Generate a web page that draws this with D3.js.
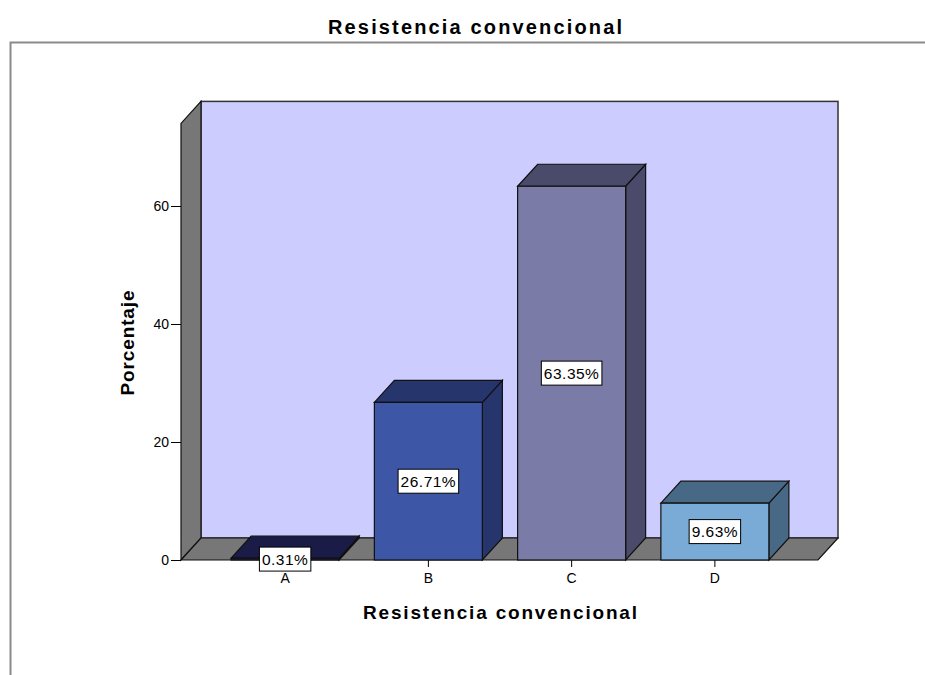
<!DOCTYPE html>
<html><head><meta charset="utf-8">
<script src="https://cdn.jsdelivr.net/npm/d3@7"></script>
<style>body{margin:0;background:#fff}svg{display:block}text{font-family:"Liberation Sans",Arial,sans-serif}</style>
</head><body>
<svg id="c" width="925" height="675"></svg>
<script>
const categories = ["A","B","C","D"];
const values = [0.31, 26.71, 63.35, 9.63];
const valueLabels = ["0.31%","26.71%","63.35%","9.63%"];
const yTicks = [0,20,40,60];
const frontColors = ["#1c1c4c","#3d56a6","#7b7ba8","#7aaad6"];
const darkColors  = ["#1b1b48","#27356d","#4a4a6a","#486986"];
const title = "Resistencia convencional";
const xTitle = "Resistencia convencional";
const yTitle = "Porcentaje";

const svg = d3.select("#c");
const dx = 20, dy = -22;
const y = d3.scaleLinear().domain([0,74]).range([560,123.4]);
const x = d3.scaleBand().domain(categories).range([213.5,786.5]).paddingInner(0.246).paddingOuter(0.123);
const xL = 181, xR = 818, y0 = y(0), yTop = y(74);

// frame
svg.append("path").attr("d","M10.5,675 V42.5 H925").attr("fill","none").attr("stroke","#8a8a8a").attr("stroke-width",2);

// title
svg.append("text").attr("x",475).attr("y",34).attr("text-anchor","middle")
  .attr("font-size",20).attr("font-weight","bold").attr("textLength",294).attr("lengthAdjust","spacing").text(title);

// back wall
svg.append("rect").attr("x",xL+dx).attr("y",yTop+dy).attr("width",xR-xL).attr("height",y0-yTop)
  .attr("fill","#ccccff").attr("stroke","#333").attr("stroke-width",1.5);
// left wall
svg.append("path").attr("d",`M${xL},${y0} V${yTop} L${xL+dx},${yTop+dy} V${y0+dy} Z`)
  .attr("fill","#777777").attr("stroke","#111").attr("stroke-width",1.2);
// floor
svg.append("path").attr("d",`M${xL},${y0} L${xL+dx},${y0+dy} H${xR+dx} L${xR},${y0} Z`)
  .attr("fill","#777777").attr("stroke","#111").attr("stroke-width",1.2);

// axes
const ya = svg.append("g").attr("transform",`translate(${xL},0)`)
  .call(d3.axisLeft(y).tickValues(yTicks).tickSize(10).tickPadding(2).tickFormat(d3.format("d")));
ya.select(".domain").remove();
ya.selectAll("text").attr("font-size",14).attr("fill","#000").style("font-family","Liberation Sans, Arial");
ya.selectAll("line").attr("stroke","#000");

const xa = svg.append("g").attr("transform",`translate(0,${y0})`)
  .call(d3.axisBottom(x).tickSize(7).tickPadding(6));
xa.select(".domain").remove();
xa.selectAll("text").attr("font-size",14).attr("fill","#000").style("font-family","Liberation Sans, Arial");
xa.selectAll("line").attr("stroke","#000");

// bars
const bw = x.bandwidth();
categories.forEach((c,i)=>{
  const x0 = x(c), x1 = x0+bw, yt = y(values[i]);
  const g = svg.append("g");
  g.append("path").attr("d",`M${x1},${yt} L${x1+dx},${yt+dy} V${y0+dy} L${x1},${y0} Z`)
    .attr("fill",darkColors[i]).attr("stroke","#111").attr("stroke-width",1.2);
  g.append("path").attr("d",`M${x0},${yt} L${x0+dx},${yt+dy} H${x1+dx} L${x1},${yt} Z`)
    .attr("fill",darkColors[i]).attr("stroke","#111").attr("stroke-width",1.2);
  g.append("rect").attr("x",x0).attr("y",yt).attr("width",bw).attr("height",y0-yt)
    .attr("fill",frontColors[i]).attr("stroke","#111").attr("stroke-width",1.2);
});

// value labels
categories.forEach((c,i)=>{
  const cx = x(c)+bw/2, cy = (y(values[i])+y0)/2;
  const g = svg.append("g");
  const r = g.append("rect");
  const t = g.append("text").attr("x",cx).attr("y",cy+5.5).attr("text-anchor","middle")
    .attr("font-size",15.5).attr("letter-spacing",0.5).text(valueLabels[i]);
  const b = t.node().getBBox();
  r.attr("x",b.x-2.5).attr("y",cy-12).attr("width",b.width+5).attr("height",24)
    .attr("fill","#fff").attr("stroke","#000").attr("stroke-width",1);
});

// axis titles
svg.append("text").attr("x",500).attr("y",619).attr("text-anchor","middle")
  .attr("font-size",19).attr("font-weight","bold").attr("textLength",274).attr("lengthAdjust","spacing").text(xTitle);
svg.append("text").attr("transform","translate(134,343) rotate(-90)").attr("text-anchor","middle")
  .attr("font-size",19).attr("font-weight","bold").attr("textLength",105).attr("lengthAdjust","spacing").text(yTitle);
</script>
</body></html>
